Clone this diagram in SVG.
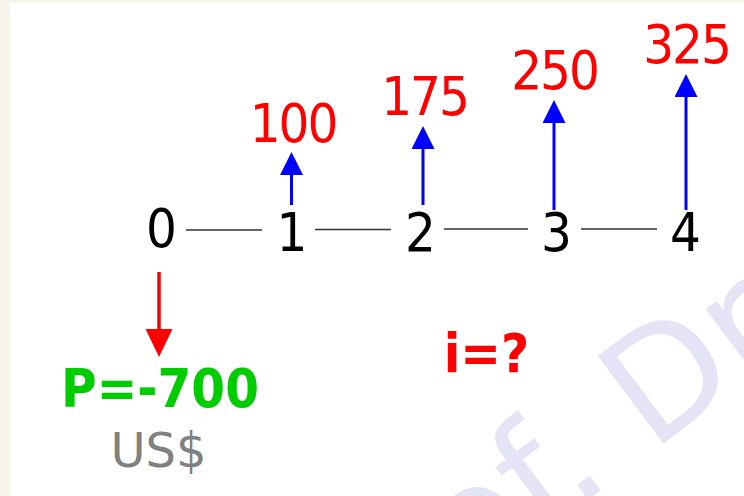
<svg xmlns="http://www.w3.org/2000/svg" width="744" height="496" viewBox="0 0 744 496">
  <style>
    .num { font-family: "DejaVu Sans Condensed", "DejaVu Sans", sans-serif; font-stretch: condensed; font-size: 54px; text-anchor: middle; }
    .period { fill: #000000; }
    .amt { fill: #ff0000; letter-spacing: -2px; }
    .bold { font-family: "DejaVu Sans Condensed", "DejaVu Sans", sans-serif; font-stretch: condensed; font-weight: bold; font-size: 54px; text-anchor: middle; }
    .unit { font-family: "DejaVu Sans", "Liberation Sans", sans-serif; font-size: 48px; fill: #808080; text-anchor: middle; }
    .tl { stroke: #333333; stroke-width: 1.5; fill: none; }
    .up { stroke: #0000ff; stroke-width: 3; fill: none; marker-end: url(#headBlue); }
    .down { stroke: #ff0000; stroke-width: 3.5; fill: none; marker-end: url(#headRed); }
    .wm { font-family: "DejaVu Sans", sans-serif; font-size: 150px; fill: #e4e4f6; }
  </style>
  <defs>
    <marker id="headBlue" markerUnits="userSpaceOnUse" markerWidth="23" markerHeight="23" viewBox="0 0 23 23" refX="0" refY="11.5" orient="auto">
      <path d="M0,0 L23,11.5 L0,23 Z" fill="#0000ff"/>
    </marker>
    <marker id="headRed" markerUnits="userSpaceOnUse" markerWidth="28" markerHeight="27" viewBox="0 0 28 27" refX="0" refY="13.5" orient="auto">
      <path d="M0,0 L28,13.5 L0,27 Z" fill="#ff0000"/>
    </marker>
  </defs>

  <rect x="0" y="0" width="744" height="496" fill="#f8f4ea"/>
  <rect x="10" y="3" width="734" height="493" fill="#ffffff"/>

  <text class="wm" transform="translate(352,678) rotate(-37)">Prof. Dr</text>

  <g id="connectors">
    <line class="tl" x1="186" y1="230" x2="262" y2="230"/>
    <line class="tl" x1="315" y1="229.5" x2="391" y2="229.5"/>
    <line class="tl" x1="444" y1="229" x2="528" y2="229"/>
    <line class="tl" x1="581" y1="229" x2="657" y2="229"/>
    <line class="up" x1="291.5" y1="205" x2="291.5" y2="175"/>
    <line class="up" x1="423" y1="205" x2="423" y2="149"/>
    <line class="up" x1="554" y1="210" x2="554" y2="123"/>
    <line class="up" x1="686" y1="210" x2="686" y2="97"/>
    <line class="down" x1="159" y1="272" x2="159" y2="329"/>
  </g>

  <g id="t0"><text class="num period" x="161.5" y="247">0</text></g>
  <g id="t1"><text class="num period" x="292" y="251">1</text></g>
  <g id="t2"><text class="num period" x="420.5" y="251">2</text></g>
  <g id="t3"><text class="num period" x="556.5" y="251">3</text></g>
  <g id="t4"><text class="num period" x="685.5" y="251">4</text></g>

  <g id="cf1"><text class="num amt" x="293" y="142">100</text></g>
  <g id="cf2"><text class="num amt" x="424.5" y="115">175</text></g>
  <g id="cf3"><text class="num amt" x="554.5" y="89">250</text></g>
  <g id="cf4"><text class="num amt" x="686.5" y="63">325</text></g>

  <g id="present">
    <text class="bold" x="160" y="407" fill="#00cc00">P=-700</text>
    <text class="unit" x="158.5" y="467">US$</text>
  </g>

  <g id="rate"><text class="bold" x="486.5" y="372" fill="#ff0000">i=?</text></g>
</svg>
